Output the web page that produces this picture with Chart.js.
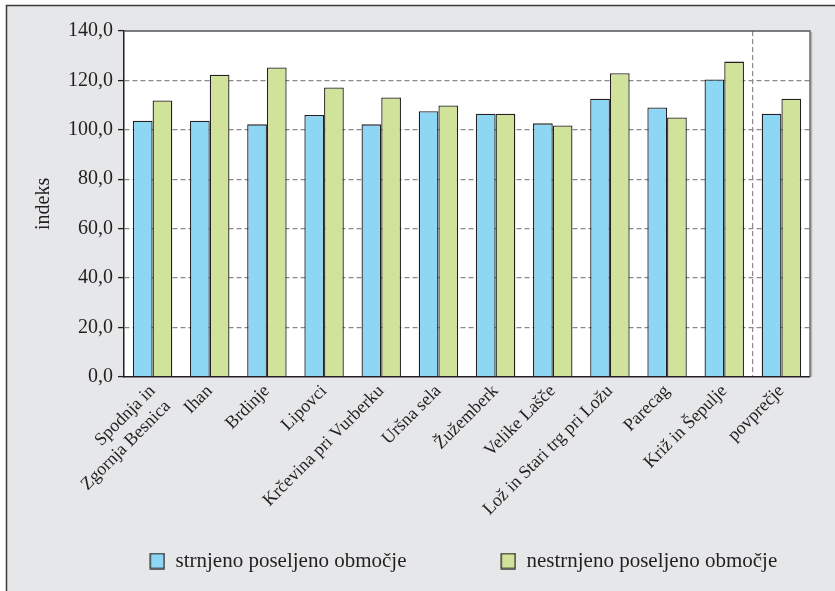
<!DOCTYPE html>
<html>
<head>
<meta charset="utf-8">
<script src="https://cdn.jsdelivr.net/npm/chart.js@4.4.1/dist/chart.umd.min.js"></script>
<style>
  html, body { margin: 0; padding: 0; background: #ffffff; overflow: hidden; }
  #wrap { position: relative; width: 835px; height: 591px; }
</style>
</head>
<body>
<div id="wrap"><canvas id="c" width="835" height="591"></canvas></div>
<script>
// ---- data ----
const categories = [
  ['Spodnja in', 'Zgornja Besnica'],
  'Ihan',
  'Brdinje',
  'Lipovci',
  'Krčevina pri Vurberku',
  'Uršna sela',
  'Žužemberk',
  'Velike Lašče',
  'Lož in Stari trg pri Ložu',
  'Parecag',
  'Križ in Šepulje',
  'povprečje'
];
const seriesNames = ['strnjeno poseljeno območje', 'nestrnjeno poseljeno območje'];
const strnjeno   = [103.7, 103.7, 102.2, 106.0, 102.2, 107.5, 106.5, 102.6, 112.6, 109.0, 120.4, 106.5];
const nestrnjeno = [111.9, 122.3, 125.2, 117.1, 113.1, 109.8, 106.5, 101.7, 122.9, 105.0, 127.6, 112.6];
const yMin = 0, yMax = 140, yStep = 20;
const yTitle = 'indeks';
const separatorIndex = 11; // dashed line before "povprečje"

// ---- styling ----
const TEXT = '#231f20';
const GRID = '#8a8a8a';
const FONT = "'Liberation Serif', 'Times New Roman', serif";
const COLORS = ['#8dd6f4', '#d1e39b'];
Chart.defaults.font.family = FONT;
Chart.defaults.color = TEXT;

const LEG_PAD = 34;
const LEG_W = 75.5;   // legend symbol slot width
function makeSwatch(fill, stroke) {
  const cv = document.createElement('canvas');
  cv.width = Math.round(LEG_W);
  cv.height = 17;
  const g = cv.getContext('2d');
  g.fillStyle = fill;
  g.strokeStyle = stroke;
  g.lineWidth = 1.3;
  g.fillRect(cv.width - 15, 1, 14, 15);
  g.strokeRect(cv.width - 15, 1, 14, 15);
  return cv;
}

const framePlugin = {
  id: 'frame',
  beforeDraw(chart) {
    const ctx = chart.ctx, a = chart.chartArea;
    ctx.save();
    ctx.fillStyle = '#ffffff';
    ctx.fillRect(0, 0, chart.width, chart.height);
    ctx.fillStyle = '#e6e7e8';
    ctx.fillRect(6, 5, chart.width - 6, chart.height - 5);
    ctx.strokeStyle = '#3a3a3a';
    ctx.lineWidth = 1.5;
    ctx.beginPath();
    ctx.moveTo(6.5, chart.height);
    ctx.lineTo(6.5, 5.5);
    ctx.lineTo(chart.width, 5.5);
    ctx.stroke();
    ctx.fillStyle = '#ffffff';
    ctx.fillRect(a.left, a.top, a.right - a.left, a.bottom - a.top);
    ctx.restore();
  },
  afterDraw(chart) {
    const ctx = chart.ctx, a = chart.chartArea;
    ctx.save();
    ctx.strokeStyle = '#b5b5b5';
    ctx.lineWidth = 1.5;
    ctx.beginPath();
    ctx.moveTo(a.right + 1.5, a.top + 1);
    ctx.lineTo(a.right + 1.5, a.bottom);
    ctx.stroke();
    ctx.strokeStyle = '#555555';
    ctx.lineWidth = 1.3;
    ctx.beginPath();
    ctx.moveTo(a.left, a.top);
    ctx.lineTo(a.right, a.top);
    ctx.lineTo(a.right, a.bottom);
    ctx.stroke();
    ctx.restore();
  }
};

new Chart(document.getElementById('c'), {
  type: 'bar',
  data: {
    labels: categories,
    datasets: [
      { label: seriesNames[0], data: strnjeno, backgroundColor: COLORS[0], borderColor: TEXT, borderWidth: 1.3 },
      { label: seriesNames[1], data: nestrnjeno, backgroundColor: COLORS[1], borderColor: TEXT, borderWidth: 1.3 }
    ]
  },
  options: {
    responsive: false,
    animation: false,
    devicePixelRatio: 1,
    datasets: { bar: { categoryPercentage: 0.69, barPercentage: 1.0 } },
    layout: { padding: { left: 55.5, right: -80, top: 31, bottom: 9.5 } },
    plugins: {
      tooltip: { enabled: false },
      legend: {
        position: 'bottom',
        align: 'start',
        labels: {
          usePointStyle: true,
          pointStyleWidth: LEG_W,
          boxHeight: 15,
          padding: LEG_PAD,
          color: TEXT,
          font: { size: 21, family: FONT },
          generateLabels(chart) {
            const items = Chart.defaults.plugins.legend.labels.generateLabels(chart);
            items.forEach((it) => {
              const ds = chart.data.datasets[it.datasetIndex];
              it.pointStyle = makeSwatch(ds.backgroundColor, ds.borderColor);
            });
            return items;
          }
        }
      }
    },
    scales: {
      x: {
        afterFit(s) { s.height = 139.8; },
        ticks: { autoSkip: false, maxRotation: 45, minRotation: 45, padding: 4, color: TEXT, font: { size: 18 } },
        grid: {
          drawTicks: false,
          color: (c) => (c.index === separatorIndex ? GRID : 'rgba(0,0,0,0)'),
          lineWidth: 1.2
        },
        border: { color: TEXT, width: 1.5, dash: [5, 3] }
      },
      y: {
        min: yMin, max: yMax,
        afterFit(s) { s.width = 68.5; },
        ticks: {
          stepSize: yStep,
          padding: 5,
          color: TEXT,
          font: { size: 20 },
          callback: (v) => Number(v).toFixed(1).replace('.', ',')
        },
        grid: {
          color: (c) => (c.tick && (c.tick.value === yMin || c.tick.value === yMax)) ? 'rgba(0,0,0,0)' : GRID,
          lineWidth: 1.2,
          tickLength: 6,
          tickColor: TEXT,
          tickWidth: 1.3
        },
        border: { color: TEXT, width: 1.5, dash: [5, 3] },
        title: { display: true, text: yTitle, color: TEXT, font: { size: 20 }, padding: { top: -23.5, bottom: 0 } }
      },
      yR: {
        type: 'linear',
        position: 'right',
        display: true,
        afterFit(s) { s.width = 105; },
        ticks: { display: false },
        grid: { display: false },
        border: { display: false }
      }
    }
  },
  plugins: [framePlugin]
});
</script>
</body>
</html>
